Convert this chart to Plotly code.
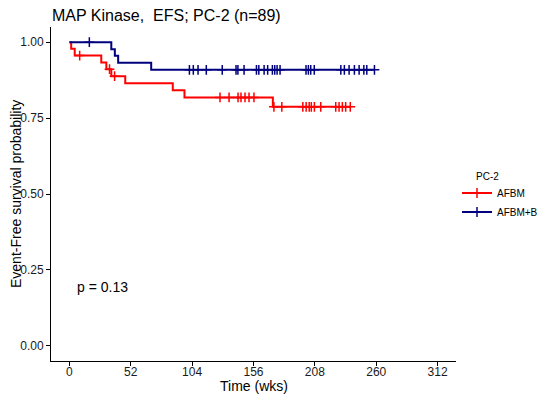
import plotly.graph_objects as go

# ---- data ----
groups = ["AFBM", "AFBM+B"]
colors = ["#FF0000", "#00007F"]

red_event_times = [1.5, 4.5, 27.0, 31.3, 35.5, 47.3, 87.6, 97.5, 172.4]
red_surv = [0.978, 0.956, 0.933, 0.911, 0.888, 0.865, 0.842, 0.818, 0.787]
red_censor_times = [8.7, 34.0, 38.3, 127.6, 135.3, 142.9, 145.4, 148.8, 152.2, 156.4,
                    173.3, 180.0, 197.8, 200.6, 203.2, 205.0, 207.6, 213.0,
                    225.7, 228.5, 231.3, 234.1, 238.0]
red_end = 238.0

blue_event_times = [35.5, 38.5, 41.3, 69.3]
blue_surv = [0.977, 0.955, 0.932, 0.909]
blue_censor_times = [16.9, 101.7, 105.0, 109.0, 116.0, 129.5, 141.2, 142.8, 148.0,
                     158.5, 160.5, 165.0, 168.0, 172.0, 174.0, 176.0, 178.5,
                     200.5, 202.5, 204.5, 207.5, 230.0, 233.0, 237.0, 241.5,
                     245.5, 249.5, 252.0, 258.5]
blue_end = 258.5

x_ticks = [0, 52, 104, 156, 208, 260, 312]
y_ticks = [0.0, 0.25, 0.5, 0.75, 1.0]
p_text = "p = 0.13"
title_text = "MAP Kinase,\u00a0 EFS; PC-2 (n=89)"
x_title = "Time (wks)"
y_title = "Event-Free survival probability"
legend_title = "PC-2"


def step_xy(ev_t, ev_s, end):
    xs = [0.0] + list(ev_t) + [end]
    ys = [1.0] + list(ev_s) + [ev_s[-1]]
    return xs, ys


def surv_at(t, ev_t, ev_s):
    s = 1.0
    for et, es in zip(ev_t, ev_s):
        if et <= t:
            s = es
    return s


fig = go.Figure()
series = [
    (red_event_times, red_surv, red_censor_times, red_end),
    (blue_event_times, blue_surv, blue_censor_times, blue_end),
]
for name, col, (et, es, ct, end) in zip(groups, colors, series):
    xs, ys = step_xy(et, es, end)
    fig.add_trace(go.Scatter(x=xs, y=ys, mode="lines", line=dict(color=col, width=2, shape="hv"),
                             showlegend=False, hoverinfo="skip"))
    cy = [surv_at(t, et, es) for t in ct]
    fig.add_trace(go.Scatter(x=ct, y=cy, mode="markers",
                             marker=dict(symbol="cross-thin", size=7, line=dict(color=col, width=1.5)),
                             showlegend=False, hoverinfo="skip"))
    fig.add_trace(go.Scatter(x=[None], y=[None], mode="lines+markers", name=name,
                             line=dict(color=col, width=2),
                             marker=dict(symbol="cross-thin", size=7, line=dict(color=col, width=1.5))))

# The page body has an 8px margin, so figure coords = reference coords - 8.
W, H = 542, 392
L, R, T, B = 43, 94, 19, 39
PW, PH = W - L - R, H - T - B

fig.add_annotation(x=5, y=0.194, xref="x", yref="y", text=p_text, showarrow=False,
                   xanchor="left", yanchor="middle", font=dict(size=14, color="black"))
# axis titles
fig.add_annotation(x=0, y=0.5, xref="paper", yref="paper", text=y_title, showarrow=False,
                   textangle=-90, xanchor="center", yanchor="middle", xshift=-(L - 8),
                   font=dict(size=14, color="black"))
fig.add_annotation(x=0.5, y=0, xref="paper", yref="paper", text=x_title, showarrow=False,
                   xanchor="center", yanchor="middle", yshift=-25,
                   font=dict(size=14, color="black"))
# legend title
fig.add_annotation(x=(466 - L) / PW, y=1 - (168 - T) / PH, xref="paper", yref="paper",
                   text=legend_title, showarrow=False, xanchor="left", yanchor="middle",
                   font=dict(size=10, color="black"))

fig.update_layout(
    width=W, height=H,
    margin=dict(l=L, r=R, t=T, b=B, autoexpand=False),
    paper_bgcolor="white", plot_bgcolor="white",
    font=dict(family="Liberation Sans, Arial, sans-serif", color="black"),
    title=dict(text=title_text, x=44 / W, xref="container", xanchor="left",
               y=1 - 7.5 / H, yref="container", yanchor="middle", font=dict(size=16, color="black")),
    legend=dict(font=dict(size=10), x=(449 - L) / PW, xanchor="left",
                y=1 - (194.5 - T) / PH, yanchor="middle", bgcolor="rgba(0,0,0,0)",
                itemwidth=30, tracegroupgap=0),
    showlegend=True,
)
fig.update_xaxes(range=[-15.6, 327.6], tickvals=x_ticks, ticks="outside", ticklen=4, tickcolor="black",
                 showline=True, linecolor="black", linewidth=1, showgrid=False, zeroline=False,
                 automargin=False, ticklabelstandoff=-4,
                 tickfont=dict(size=12, color="#1a1a1a"))
fig.update_yaxes(range=[-0.05, 1.05], tickvals=y_ticks, tickformat=".2f", ticks="outside", ticklen=4,
                 tickcolor="black", showline=True, linecolor="black", linewidth=1, showgrid=False,
                 zeroline=False, automargin=False, tickfont=dict(size=12, color="#1a1a1a"))

fig.write_html("out.html")
